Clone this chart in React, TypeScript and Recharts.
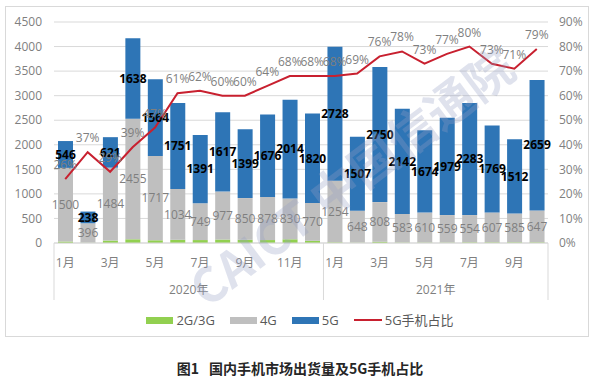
import React from 'react';
import {
  ComposedChart, Bar, Line, XAxis, YAxis, CartesianGrid, LabelList, Legend,
} from 'recharts';

const years = ['2020年', '2020年', '2020年', '2020年', '2020年', '2020年', '2020年', '2020年', '2020年', '2020年', '2020年', '2020年',
  '2021年', '2021年', '2021年', '2021年', '2021年', '2021年', '2021年', '2021年', '2021年', '2021年'];
const months = ['1月', '2月', '3月', '4月', '5月', '6月', '7月', '8月', '9月', '10月', '11月', '12月',
  '1月', '2月', '3月', '4月', '5月', '6月', '7月', '8月', '9月', '10月'];
const g23 = [30, 6, 50, 75, 55, 65, 60, 70, 65, 60, 75, 45, 15, 8, 25, 10, 10, 10, 15, 15, 15, 15];
const g4 = [1500, 396, 1484, 2455, 1717, 1034, 749, 977, 850, 878, 830, 770, 1254, 648, 808, 583, 610, 559, 554, 607, 585, 647];
const g5 = [546, 238, 621, 1638, 1564, 1751, 1391, 1617, 1399, 1676, 2014, 1820, 2728, 1507, 2750, 2142, 1674, 1979, 2283, 1769, 1512, 2659];
const share = [26, 37, 29, 39, 47, 61, 62, 60, 60, 64, 68, 68, 68, 69, 76, 78, 73, 77, 80, 73, 71, 79];
const leftTicks = [0, 500, 1000, 1500, 2000, 2500, 3000, 3500, 4000, 4500];
const rightTicks = [0, 10, 20, 30, 40, 50, 60, 70, 80, 90];

const data = months.map((m, i) => ({
  key: `${years[i]}-${m}`,
  month: m,
  year: years[i],
  g23: g23[i],
  g4: g4[i],
  g5: g5[i],
  share: share[i],
}));

const FONT = "'Open Sans', 'Noto Sans CJK SC', sans-serif";
const GRAY_TEXT = '#7f7f7f';
const SEP = '#d9d9d9';

function MonthTick(props: any) {
  const { x, y, payload } = props;
  const i: number = payload.index;
  const half: number = payload.offset || 11.2;
  const d = data[i];
  const els: React.ReactNode[] = [];
  if (i % 2 === 0) {
    els.push(
      <text key="m" x={x} y={y + 23.5} textAnchor="middle" fill={GRAY_TEXT} fontSize={12} fontFamily={FONT}>
        {d.month}
      </text>
    );
  }
  const isStart = i === 0 || data[i - 1].year !== d.year;
  if (isStart) {
    els.push(<line key="s" x1={x - half} x2={x - half} y1={y} y2={y + 57} stroke={SEP} strokeWidth={1} />);
    let e = i;
    while (e + 1 < data.length && data[e + 1].year === d.year) e++;
    const cx = x + (e - i) * half;
    els.push(
      <text key="y" x={cx} y={y + 51} textAnchor="middle" fill={GRAY_TEXT} fontSize={12} fontFamily={FONT}>
        {d.year}
      </text>
    );
  }
  if (i === data.length - 1) {
    els.push(<line key="r" x1={x + half} x2={x + half} y1={y} y2={y + 57} stroke={SEP} strokeWidth={1} />);
  }
  return <g>{els}</g>;
}

function LegendContent(props: any) {
  const payload = props.payload || [];
  return (
    <div style={{ height: 76, display: 'flex', justifyContent: 'center', alignItems: 'flex-start', fontFamily: FONT }}>
      <div style={{ display: 'flex', alignItems: 'center', height: 20 }}>
        {payload.map((p: any, idx: number) => (
          <div key={idx} style={{ display: 'flex', alignItems: 'center', marginRight: idx < payload.length - 1 ? 15 : 0 }}>
            {p.type === 'line' ? (
              <div style={{ width: 28, height: 2, background: p.color, marginRight: 3 }} />
            ) : (
              <div style={{ width: 27, height: 7, background: p.color, marginRight: 3 }} />
            )}
            <span style={{ fontSize: 13, color: '#595959', lineHeight: '20px' }}>{p.value}</span>
          </div>
        ))}
      </div>
    </div>
  );
}

export default function App() {
  return (
    <div style={{ position: 'absolute', left: 0, top: 0, width: 600, height: 386, background: '#fff' }}>
      <div style={{ position: 'absolute', left: 5, top: 6, width: 584, height: 331, border: '1px solid #d9d9d9', boxSizing: 'border-box' }} />
      <ComposedChart
        width={600}
        height={386}
        data={data}
        margin={{ top: 22, right: 0, bottom: 0, left: 0 }}
        barSize={15}
      >
        <CartesianGrid vertical={false} stroke="#d9d9d9" yAxisId="left" />
        <XAxis
          dataKey="key"
          interval={0}
          height={67}
          tickLine={false}
          tickSize={0}
          tickMargin={0}
          axisLine={{ stroke: SEP }}
          tick={<MonthTick />}
        />
        <YAxis
          yAxisId="left"
          orientation="left"
          width={54}
          domain={[0, 4500]}
          ticks={leftTicks}
          axisLine={false}
          tickLine={false}
          tickSize={0}
          tickMargin={12}
          tick={{ fill: GRAY_TEXT, fontSize: 12, fontFamily: FONT }}
        />
        <YAxis
          yAxisId="right"
          orientation="right"
          width={52}
          domain={[0, 90]}
          ticks={rightTicks}
          axisLine={false}
          tickLine={false}
          tickSize={0}
          tickMargin={11}
          tickFormatter={(v: number) => `${v}%`}
          tick={{ fill: GRAY_TEXT, fontSize: 12, fontFamily: FONT }}
        />
        <Legend verticalAlign="bottom" content={<LegendContent />} />
        <Bar dataKey="g23" name="2G/3G" stackId="a" yAxisId="left" fill="#92D050" isAnimationActive={false} />
        <Bar dataKey="g4" name="4G" stackId="a" yAxisId="left" fill="#BFBFBF" isAnimationActive={false}>
          <LabelList dataKey="g4" position="center" fill={GRAY_TEXT} fontSize={12} fontFamily={FONT} />
        </Bar>
        <Bar dataKey="g5" name="5G" stackId="a" yAxisId="left" fill="#2E75B6" isAnimationActive={false}>
          <LabelList dataKey="g5" position="center" fill="#000" fontSize={12} fontWeight="bold" fontFamily={FONT} />
        </Bar>
        <Line
          dataKey="share"
          name="5G手机占比"
          yAxisId="right"
          type="linear"
          stroke="#C8202F"
          strokeWidth={2}
          dot={false}
          legendType="line"
          isAnimationActive={false}
        >
          <LabelList dataKey="share" position="top" offset={10} fill={GRAY_TEXT} fontSize={12} fontFamily={FONT}
            formatter={(v: any) => `${v}%`} />
        </Line>
      </ComposedChart>
      <svg width={600} height={386} style={{ position: 'absolute', left: 0, top: 0, pointerEvents: 'none' }}>
        <text
          x={350}
          y={175}
          textAnchor="middle"
          dominantBaseline="central"
          transform="rotate(-37 350 175)"
          fontFamily="'Noto Sans CJK SC', sans-serif"
          fontWeight="bold"
          fontSize={48}
          fill="rgba(150,160,195,0.30)"
        >
          CAICT 中国信通院
        </text>
      </svg>
      <div style={{ position: 'absolute', left: 0, top: 358, width: 600, textAlign: 'center', fontFamily: "'Noto Sans CJK SC', sans-serif", fontWeight: 'bold', fontSize: 14, color: '#262626', lineHeight: '20px' }}>
        图1<span style={{ marginLeft: 10 }}>国内手机市场出货量及5G手机占比</span>
      </div>
    </div>
  );
}
